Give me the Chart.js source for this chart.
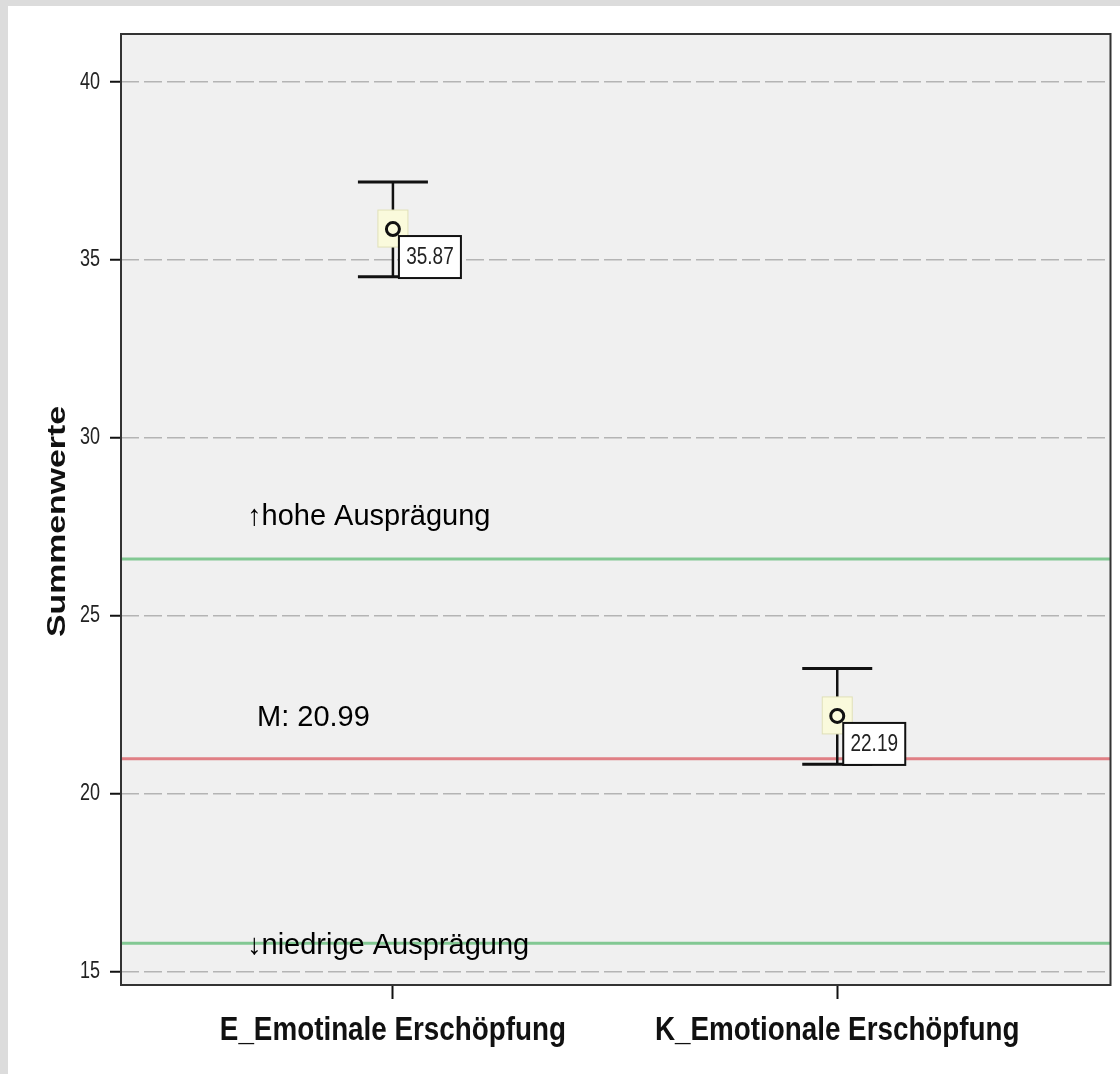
<!DOCTYPE html>
<html>
<head>
<meta charset="utf-8">
<script src="https://cdn.jsdelivr.net/npm/chart.js@4.4.1/dist/chart.umd.min.js"></script>
<style>
  html, body { margin: 0; padding: 0; background: #dcdcdc; }
  #wrap { position: absolute; left: 8px; top: 6px; width: 1112px; height: 1068px; background: #fff; }
  canvas { display: block; }
</style>
</head>
<body>
<div id="wrap"><canvas id="chart" width="1112" height="1068"></canvas></div>
<script>
const categories = ['E_Emotinale Erschöpfung', 'K_Emotionale Erschöpfung'];
const means = [35.87, 22.19];
const ciLower = [34.53, 20.83];
const ciUpper = [37.19, 23.52];
const yTicks = [15, 20, 25, 30, 35, 40];
const yTitle = 'Summenwerte';
const refValues = [26.6, 20.99, 15.8];
const refColors = ['#82c893', '#e07f85', '#82c893'];
const noteTexts = ['↑hohe Ausprägung', 'M: 20.99', '↓niedrige Ausprägung'];

// the SPSS part of the picture is stretched vertically
const SY = 1.3;
const FONT = '"Liberation Sans", Arial, sans-serif';

function stretchedText(ctx, text, x, y, font, align, sx, sy, rot) {
  ctx.save();
  ctx.translate(x, y);
  if (rot) ctx.rotate(rot);
  ctx.scale(sx, sy);
  ctx.font = font;
  ctx.textAlign = align;
  ctx.textBaseline = 'middle';
  ctx.fillText(text, 0, 0);
  ctx.restore();
}

const spssPlugin = {
  id: 'spss',
  beforeDraw(chart) {
    const { ctx, chartArea: a } = chart;
    ctx.save();
    ctx.fillStyle = '#f0f0f0';
    ctx.fillRect(a.left, a.top, a.right - a.left, a.bottom - a.top);
    ctx.restore();
  },
  beforeDatasetsDraw(chart) {
    const { ctx, chartArea: a, scales: { x, y } } = chart;
    ctx.save();
    refValues.forEach((v, i) => {
      const py = y.getPixelForValue(v);
      ctx.strokeStyle = refColors[i];
      ctx.lineWidth = 3;
      ctx.beginPath();
      ctx.moveTo(a.left, py);
      ctx.lineTo(a.right, py);
      ctx.stroke();
    });
    means.forEach((m, i) => {
      const px = x.getPixelForValue(i);
      const top = y.getPixelForValue(ciUpper[i]);
      const bot = y.getPixelForValue(ciLower[i]);
      const py = y.getPixelForValue(m);
      ctx.strokeStyle = '#111';
      ctx.lineWidth = 2.5;
      ctx.beginPath();
      ctx.moveTo(px, top);
      ctx.lineTo(px, bot);
      ctx.stroke();
      ctx.lineWidth = 3;
      ctx.beginPath();
      ctx.moveTo(px - 35, top); ctx.lineTo(px + 35, top);
      ctx.moveTo(px - 35, bot); ctx.lineTo(px + 35, bot);
      ctx.stroke();
      // selection highlight behind the mean
      ctx.fillStyle = '#fafadc';
      ctx.strokeStyle = '#e0e0b8';
      ctx.lineWidth = 1;
      ctx.fillRect(px - 15, py - 19, 30, 37);
      ctx.strokeRect(px - 15, py - 19, 30, 37);
    });
    ctx.restore();
  },
  afterDatasetsDraw(chart) {
    const { ctx, scales: { x, y } } = chart;
    ctx.save();
    means.forEach((m, i) => {
      const px = x.getPixelForValue(i);
      const py = y.getPixelForValue(m);
      ctx.fillStyle = '#fff';
      ctx.strokeStyle = '#111';
      ctx.lineWidth = 2;
      ctx.fillRect(px + 6, py + 7, 62, 42);
      ctx.strokeRect(px + 6, py + 7, 62, 42);
      ctx.fillStyle = '#222';
      stretchedText(ctx, m.toFixed(2), px + 37, py + 28, '19px ' + FONT, 'center', 1, SY);
    });
    ctx.restore();
  },
  afterDraw(chart) {
    const { ctx, chartArea: a, scales: { x, y } } = chart;
    ctx.save();
    ctx.strokeStyle = '#333';
    ctx.lineWidth = 2;
    ctx.strokeRect(a.left, a.top, a.right - a.left, a.bottom - a.top);

    ctx.fillStyle = '#222';
    y.ticks.forEach(t => {
      stretchedText(ctx, String(t.value), 92, y.getPixelForValue(t.value), '18px ' + FONT, 'right', 1, SY);
    });
    ctx.fillStyle = '#111';
    categories.forEach((c, i) => {
      stretchedText(ctx, c, x.getPixelForValue(i), 1025, 'bold 27px ' + FONT, 'center', 1.03, 1.25);
    });
    stretchedText(ctx, yTitle, 50, (a.top + a.bottom) / 2 + 12, 'bold 26px ' + FONT, 'center', SY, 1, -Math.PI / 2);

    // notes drawn later on top of the chart
    ctx.fillStyle = '#000';
    ctx.font = '29px ' + FONT;
    ctx.textAlign = 'left';
    ctx.textBaseline = 'alphabetic';
    ctx.fillText(noteTexts[0], 239, y.getPixelForValue(refValues[0]) - 34);
    ctx.fillText(noteTexts[1], 249, y.getPixelForValue(refValues[1]) - 33);
    ctx.fillText(noteTexts[2], 239, y.getPixelForValue(refValues[2]) + 11);
    ctx.restore();
  }
};

new Chart(document.getElementById('chart'), {
  type: 'scatter',
  data: {
    datasets: [{
      data: means.map((m, i) => ({ x: i, y: m })),
      pointRadius: 6.5,
      pointHoverRadius: 6.5,
      borderWidth: 3,
      borderColor: '#111',
      backgroundColor: 'rgba(0,0,0,0)'
    }]
  },
  options: {
    responsive: false,
    animation: false,
    events: [],
    layout: { padding: { left: 0, right: 6, top: 28, bottom: 0 } },
    plugins: { legend: { display: false }, tooltip: { enabled: false } },
    scales: {
      x: {
        type: 'linear',
        min: -0.612,
        max: 1.615,
        afterBuildTicks: s => { s.ticks = categories.map((c, i) => ({ value: i })); },
        afterFit: s => { s.height = 89; },
        ticks: { display: false },
        grid: { drawOnChartArea: false, drawTicks: true, tickLength: 14, tickColor: '#111', tickWidth: 2, color: '#111' },
        border: { display: false }
      },
      y: {
        min: 14.63,
        max: 41.35,
        afterBuildTicks: s => { s.ticks = yTicks.map(v => ({ value: v })); },
        afterFit: s => { s.width = 113; },
        ticks: { display: false },
        grid: { color: '#b4b4b4', lineWidth: 1.5, tickLength: 11, tickColor: '#111', tickWidth: 2, tickBorderDash: [] },
        border: { display: false, dash: [18, 5] }
      }
    }
  },
  plugins: [spssPlugin]
});
</script>
</body>
</html>
